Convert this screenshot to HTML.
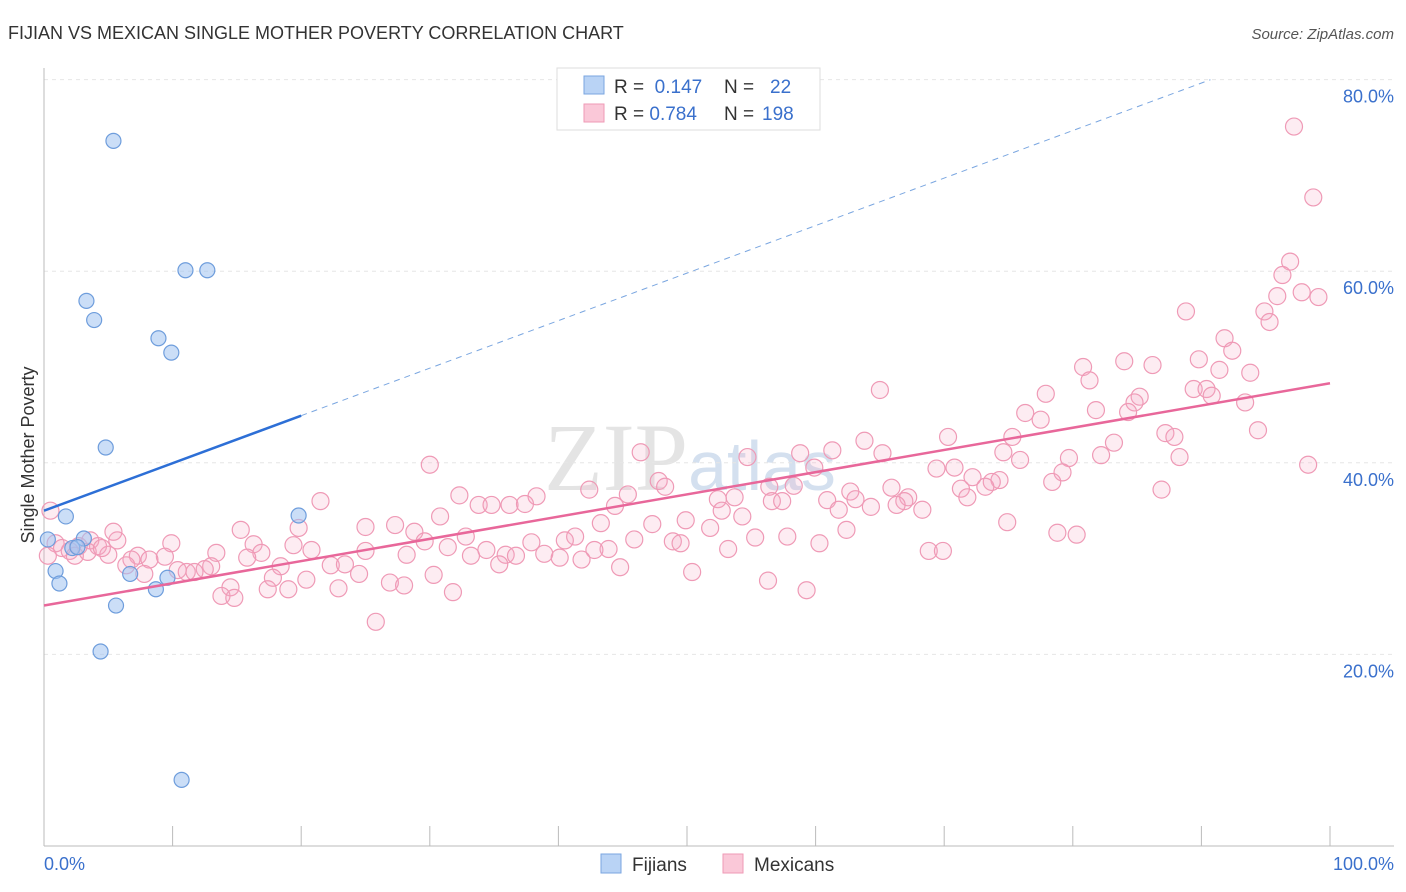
<!DOCTYPE html>
<html><head><meta charset="utf-8"><style>
body{margin:0;background:#fff;font-family:"Liberation Sans",sans-serif;}
svg{display:block}
</style></head><body>
<svg id="chart" width="1406" height="892">
<text x="8" y="39" font-size="18" fill="#333">FIJIAN VS MEXICAN SINGLE MOTHER POVERTY CORRELATION CHART</text>
<text x="1394" y="39" font-size="15" fill="#555" font-style="italic" text-anchor="end">Source: ZipAtlas.com</text>
<text x="690" y="490" font-size="96" fill="#e4e4e4" text-anchor="middle" font-family="Liberation Serif,serif">ZIP<tspan fill="#d4e0ef" font-family="Liberation Sans,sans-serif" font-size="70">atlas</tspan></text>
<g id="grid"></g><g id="axes"></g><g id="marks"></g>
<text transform="translate(34,455) rotate(-90)" font-size="18" fill="#333" text-anchor="middle">Single Mother Poverty</text>
<g>
<rect x="557" y="68" width="263" height="62" fill="#fff" stroke="#ddd"/>
<rect x="584" y="76" width="20" height="18" fill="#b9d3f5" stroke="#7aa6e0"/>
<rect x="584" y="104" width="20" height="18" fill="#fac8d8" stroke="#ef9ab6"/>
<text x="614" y="93" font-size="19" fill="#333">R = <tspan fill="#3a70cc">&#160;0.147</tspan><tspan x="724">N = </tspan><tspan fill="#3a70cc" x="770">22</tspan></text>
<text x="614" y="120" font-size="19" fill="#333">R = <tspan fill="#3a70cc">0.784</tspan><tspan x="724">N = </tspan><tspan fill="#3a70cc" x="762">198</tspan></text>
</g>
<g>
<rect x="601" y="854" width="20" height="19" fill="#b9d3f5" stroke="#7aa6e0"/>
<text x="632" y="871" font-size="19" fill="#333">Fijians</text>
<rect x="723" y="854" width="20" height="19" fill="#fac8d8" stroke="#ef9ab6"/>
<text x="754" y="871" font-size="19" fill="#333">Mexicans</text>
</g>
</svg>
<script>
const fijX=[5.4,11.0,12.7,3.3,3.9,8.9,9.9,4.8,1.7,19.8,3.1,2.2,2.6,0.9,1.2,6.7,9.6,8.7,5.6,4.4,10.7,0.3];
const fijY=[73.6,60.1,60.1,56.9,54.9,53.0,51.5,41.6,34.4,34.5,32.1,31.1,31.2,28.7,27.4,28.4,28.0,26.8,25.1,20.3,6.9,32.0];
const mexX=[97.2,98.7,96.9,96.3,97.8,95.9,99.1,88.8,94.9,95.3,91.8,92.4,89.8,84.0,86.2,91.4,80.8,93.8,81.3,65.0,77.9,89.4,90.4,90.8,85.2,84.8,93.4,81.8,84.3,76.3,77.5,94.4,87.2,87.9,70.3,75.3,63.8,83.2,61.3,46.4,65.2,58.8,74.6,54.7,82.2,88.3,79.7,75.9,30.0,98.3,59.9,69.4,70.8,79.2,72.2,74.3,78.4,47.8,73.7,73.2,56.4,58.3,65.9,48.3,42.4,71.3,86.9,62.7,45.4,32.3,38.3,53.7,71.8,67.2,63.1,66.9,52.4,60.9,56.6,57.4,21.5,33.8,34.8,36.2,37.4,44.4,66.3,64.3,61.8,68.3,52.7,54.3,30.8,49.9,43.3,47.3,74.9,27.3,25.0,51.8,15.3,19.8,62.4,28.8,78.8,80.3,32.8,45.9,48.9,57.8,55.3,41.3,40.5,37.9,49.5,60.3,29.6,16.3,9.9,19.4,31.4,20.8,25.0,53.2,34.4,43.9,42.8,13.4,16.9,68.8,69.9,28.2,35.9,38.9,33.2,36.7,9.4,15.8,7.3,6.8,8.2,40.1,41.8,35.4,22.3,23.4,6.4,13.0,12.5,18.4,44.8,10.4,11.1,11.7,50.4,7.8,24.5,30.3,17.8,20.4,56.3,26.9,28.0,14.5,17.4,19.0,22.9,31.8,59.3,13.8,14.8,25.8,0.5,0.9,1.4,2.0,2.7,3.6,4.2,5.0,5.7,5.4,2.4,0.3,3.4,4.5];
const mexY=[75.1,67.7,61.0,59.6,57.8,57.4,57.3,55.8,55.8,54.7,53.0,51.7,50.8,50.6,50.2,49.7,50.0,49.4,48.6,47.6,47.2,47.7,47.7,47.0,46.9,46.3,46.3,45.5,45.3,45.2,44.5,43.4,43.1,42.7,42.7,42.7,42.3,42.1,41.3,41.1,41.0,41.0,41.1,40.6,40.8,40.6,40.5,40.3,39.8,39.8,39.5,39.4,39.5,39.0,38.5,38.2,38.0,38.1,38.0,37.5,37.5,37.6,37.4,37.5,37.2,37.3,37.2,37.0,36.7,36.6,36.5,36.4,36.4,36.4,36.2,36.0,36.2,36.1,36.0,36.0,36.0,35.6,35.6,35.6,35.7,35.5,35.6,35.4,35.1,35.1,35.0,34.4,34.4,34.0,33.7,33.6,33.8,33.5,33.3,33.2,33.0,33.2,33.0,32.8,32.7,32.5,32.3,32.0,31.8,32.3,32.2,32.3,31.9,31.7,31.6,31.6,31.8,31.5,31.6,31.4,31.2,30.9,30.8,31.0,30.9,31.0,30.9,30.6,30.6,30.8,30.8,30.4,30.4,30.5,30.3,30.3,30.2,30.1,30.3,29.9,29.9,30.1,29.9,29.4,29.3,29.4,29.3,29.2,28.9,29.2,29.1,28.8,28.6,28.6,28.6,28.4,28.4,28.3,28.0,27.8,27.7,27.5,27.2,27.0,26.8,26.8,26.9,26.5,26.7,26.1,25.9,23.4,35.0,31.6,31.1,30.8,31.3,31.9,31.3,30.4,31.9,32.8,30.3,30.3,30.7,31.1];
const fijTrend=[35.0,0.496];
const mexTrend=[25.1,0.232];
const yTicks=[20,40,60,80];
const yTickLabels=["20.0%","40.0%","60.0%","80.0%"];
const xTicks=[0,10,20,30,40,50,60,70,80,90,100];

const NS="http://www.w3.org/2000/svg";
const sx=v=>44+v*12.86, sy=v=>846-v*9.58;
function mk(tag,attrs,parent){const e=document.createElementNS(NS,tag);for(const k in attrs)e.setAttribute(k,attrs[k]);parent.appendChild(e);return e;}
const grid=document.getElementById('grid'),axes=document.getElementById('axes'),marks=document.getElementById('marks');
yTicks.forEach((t,i)=>{
 const l=mk('line',{x1:44,x2:1394,y1:sy(t),y2:sy(t),stroke:'#e6e6e6','stroke-dasharray':'4,4'},grid);
 
 
 const tx=mk('text',{x:1394,y:sy(t)+23,'font-size':18,fill:'#3a70cc','text-anchor':'end'},axes);
 tx.textContent=yTickLabels[i];
 
 
});
const ax=mk('line',{x1:44,x2:1394,y1:846,y2:846,stroke:'#bbb'},axes);


const ay=mk('line',{x1:44,x2:44,y1:68,y2:846,stroke:'#bbb'},axes);


xTicks.forEach(t=>{
 const l=mk('line',{x1:sx(t),x2:sx(t),y1:826,y2:846,stroke:'#bbb'},axes);
 
 
});
const xl0=mk('text',{x:44,y:870,'font-size':18,fill:'#3a70cc'},axes);xl0.textContent='0.0%';


const xl1=mk('text',{x:1394,y:870,'font-size':18,fill:'#3a70cc','text-anchor':'end'},axes);xl1.textContent='100.0%';



mexX.forEach((x,i)=>{
 const c=mk('circle',{cx:sx(x),cy:sy(mexY[i]),r:8.5,fill:'rgba(247,170,196,0.22)',stroke:'#ef9ab6','stroke-width':1.2},marks);
 
 
});
fijX.forEach((x,i)=>{
 const c=mk('circle',{cx:sx(x),cy:sy(fijY[i]),r:7.5,fill:'rgba(160,195,240,0.55)',stroke:'#6e9ddc','stroke-width':1.2},marks);
 
 
});
const mt=mk('line',{x1:sx(0),y1:sy(mexTrend[0]),x2:sx(100),y2:sy(mexTrend[0]+mexTrend[1]*100),stroke:'#e8679a','stroke-width':2.5},marks);


const ft=mk('line',{x1:sx(0),y1:sy(fijTrend[0]),x2:sx(20),y2:sy(fijTrend[0]+fijTrend[1]*20),stroke:'#2d6fd6','stroke-width':2.5},marks);


const fd=mk('line',{x1:sx(20),y1:sy(fijTrend[0]+fijTrend[1]*20),x2:sx(90.7),y2:sy(fijTrend[0]+fijTrend[1]*90.7),stroke:'#7aa6e0','stroke-width':1,'stroke-dasharray':'6,5'},marks);


</script>
</body></html>
